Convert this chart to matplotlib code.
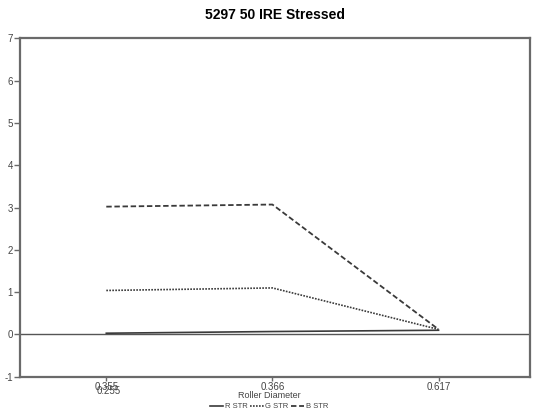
import matplotlib
matplotlib.use("Agg")
import matplotlib.pyplot as plt
from matplotlib.lines import Line2D
from matplotlib.transforms import offset_copy

# Roller diameter categories (first position carries two overlapping labels)
diameters = ["0.355", "0.366", "0.617"]
extra_label = "0.255"
r_str = [0.03, 0.07, 0.10]
g_str = [1.04, 1.10, 0.12]
b_str = [3.02, 3.07, 0.12]
y_ticks = [-1, 0, 1, 2, 3, 4, 5, 6, 7]

fig = plt.figure(figsize=(5.38, 4.15), dpi=100)
ax = fig.add_axes([0.037, 0.092, 0.948, 0.816])

frame_col = "#6a6a6a"
line_col = "#3a3a3a"
txt_col = "#444444"
font = "Liberation Sans"
xs = list(range(len(diameters)))

ax.axhline(0, color="#555555", lw=1.0, zorder=1)
ax.plot(xs, r_str, color=line_col, lw=1.2, ls="-")
ax.plot(xs, g_str, color=line_col, lw=1.2, ls=(0, (1, 0.8)))
ax.plot(xs, b_str, color=line_col, lw=1.3, ls=(0, (3, 1.5)))

ax.set_xlim(-0.52, 2.55)
ax.set_ylim(-1, 7)
ax.set_yticks(y_ticks)
ax.set_yticklabels([str(v) for v in y_ticks])
ax.set_xticks(xs)
ax.set_xticklabels(diameters)

# second label printed just below the first category's label
trans = offset_copy(ax.get_xaxis_transform(), fig=fig, x=2, y=-6.5, units="points")
ax.text(xs[0], 0, extra_label, transform=trans, ha="center", va="top",
        fontsize=7, color=txt_col, family=font)

for s in ax.spines.values():
    s.set_color(frame_col)
    s.set_linewidth(1.6)
ax.tick_params(axis="both", colors=frame_col, labelcolor=txt_col,
               labelsize=7, length=4, width=1, pad=1)
ax.tick_params(axis="x", length=3, pad=1)
for lbl in ax.get_xticklabels() + ax.get_yticklabels():
    lbl.set_family(font)

ax.set_title("5297 50 IRE Stressed", fontsize=10, fontweight="bold",
             family=font, pad=14)
fig.text(0.5, 0.046, "Roller Diameter", ha="center", va="center",
         fontsize=6.5, color=txt_col, family=font)

handles = [Line2D([], [], color=line_col, lw=1.2, ls="-"),
           Line2D([], [], color=line_col, lw=1.2, ls=(0, (1, 0.8))),
           Line2D([], [], color=line_col, lw=1.3, ls=(0, (3, 1.5)))]
fig.legend(handles, ["R STR", "G STR", "B STR"], loc="center",
           bbox_to_anchor=(0.5, 0.02), ncol=3, frameon=False,
           prop={"family": font, "size": 5.5}, borderpad=0,
           handlelength=1.8, handletextpad=0.2, columnspacing=0.3,
           labelcolor=txt_col)

fig.savefig("out.png", dpi=100, facecolor="white")
